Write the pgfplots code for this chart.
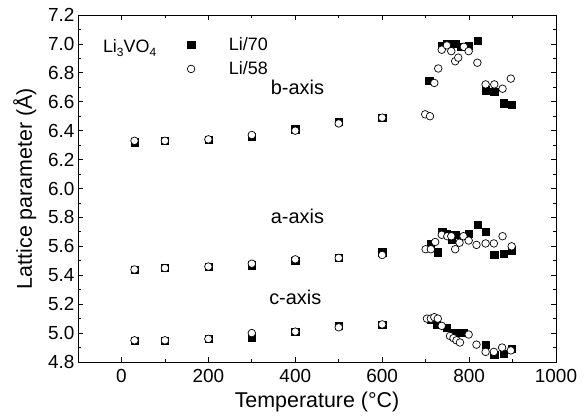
\documentclass[border=0pt]{standalone}
\usepackage{pgfplots}
\pgfplotsset{compat=1.18}
\usepackage{fontspec}
\setmainfont{Liberation Sans}
\begin{document}
\begin{tikzpicture}
\useasboundingbox (-78bp,-58bp) rectangle (509bp,362bp);
\begin{axis}[
  at={(0,0)}, anchor=south west,
  width=478bp, height=347bp, scale only axis,
  xmin=-100, xmax=1000, ymin=4.8, ymax=7.2,
  xtick={0,200,400,600,800,1000},
  minor xtick={-100,100,300,500,700,900},
  ytick={4.8,5.0,...,7.2},
  minor ytick={4.9,5.1,...,7.1},
  xticklabel style={yshift=-4bp, /pgf/number format/set thousands separator={}},
  yticklabel style={/pgf/number format/fixed, /pgf/number format/fixed zerofill, /pgf/number format/precision=1},
  /pgf/number format/assume math mode=true,
  tick align=inside, tick pos=both,
  major tick length=5bp, minor tick length=3bp,
  tick style={black, line width=0.8pt},
  axis line style={line width=0.8pt},
  ticklabel style={font=\fontsize{19}{21}\selectfont},
  xlabel={Temperature (°C)}, ylabel={Lattice parameter (Å)},
  label style={font=\fontsize{21.5}{24}\selectfont},
  xlabel style={yshift=-2bp},
  ylabel style={yshift=5bp},
  legend style={draw=none, fill=none, at={(rel axis cs:0.222,0.948)}, anchor=north west,
    font=\fontsize{18}{20}\selectfont, row sep=6bp},
  legend cell align=left,
  legend image code/.code={\draw[#1] plot coordinates {(0.15cm,0cm)};},
]
% filled: Li/70
\addplot[only marks, mark=square*, mark size=3.6bp, black] coordinates {
(30,6.32) (100,6.33) (200,6.34) (300,6.36) (400,6.41) (500,6.46) (600,6.49)
(708,6.745) (737,6.99) (749,7.00) (768,7.00) (781,6.98) (799,6.99) (819,7.02)
(838,6.68) (858,6.67) (879,6.59) (898,6.58)
(30,5.44) (100,5.45) (200,5.46) (300,5.47) (400,5.50) (500,5.52) (600,5.56)
(712,5.62) (728,5.56) (738,5.70) (749,5.69) (760,5.65) (768,5.68) (799,5.685)
(819,5.75) (838,5.70) (858,5.54) (879,5.55) (898,5.57)
(30,4.95) (100,4.95) (200,4.96) (300,4.97) (400,5.01) (500,5.05) (600,5.06)
(712,5.09) (726,5.06) (749,5.04) (768,5.00) (788,5.00) (838,4.92) (858,4.85)
(879,4.86) (898,4.89)
};
\addlegendentry{\hspace{32bp}Li/70}
% open: Li/58
\addplot[only marks, mark=*, mark size=3.8bp, mark options={fill=white, draw=black, line width=0.7pt}] coordinates {
(30,6.33) (100,6.33) (200,6.34) (300,6.37) (400,6.40) (500,6.45) (600,6.49)
(699,6.513) (710,6.50) (720,6.73) (729,6.83) (737,6.96) (749,6.99) (759,6.95)
(768,6.88) (775,6.905) (788,6.98) (799,6.95) (819,6.87) (838,6.72) (858,6.72)
(877,6.69) (896,6.76)
(30,5.44) (100,5.45) (200,5.46) (300,5.48) (400,5.51) (500,5.52) (600,5.54)
(700,5.58) (712,5.58) (722,5.63) (737,5.68) (750,5.67) (759,5.67) (768,5.58)
(778,5.625) (787,5.67) (799,5.64) (817,5.61) (838,5.62) (857,5.62) (877,5.67) (898,5.60)
(30,4.95) (100,4.95) (200,4.96) (300,5.00) (400,5.01) (500,5.04) (600,5.06)
(703,5.10) (712,5.10) (720,5.11) (728,5.10) (737,5.05) (756,4.98) (764,4.965)
(771,4.95) (779,4.935) (799,4.99) (817,4.92) (838,4.87) (857,4.87) (876,4.90) (896,4.88)
};
\addlegendentry{\hspace{32bp}Li/58}
\node[anchor=west, font=\fontsize{18}{20}\selectfont] at (rel axis cs:0.045,0.905) {Li\raisebox{-0.45ex}{\fontsize{12}{14}\selectfont 3}VO\raisebox{-0.45ex}{\fontsize{12}{14}\selectfont 4}};
\node[font=\fontsize{20}{23}\selectfont] at (axis cs:405,6.70) {b-axis};
\node[font=\fontsize{20}{23}\selectfont] at (axis cs:405,5.81) {a-axis};
\node[font=\fontsize{20}{23}\selectfont] at (axis cs:400,5.25) {c-axis};
\end{axis}
\end{tikzpicture}
\end{document}
